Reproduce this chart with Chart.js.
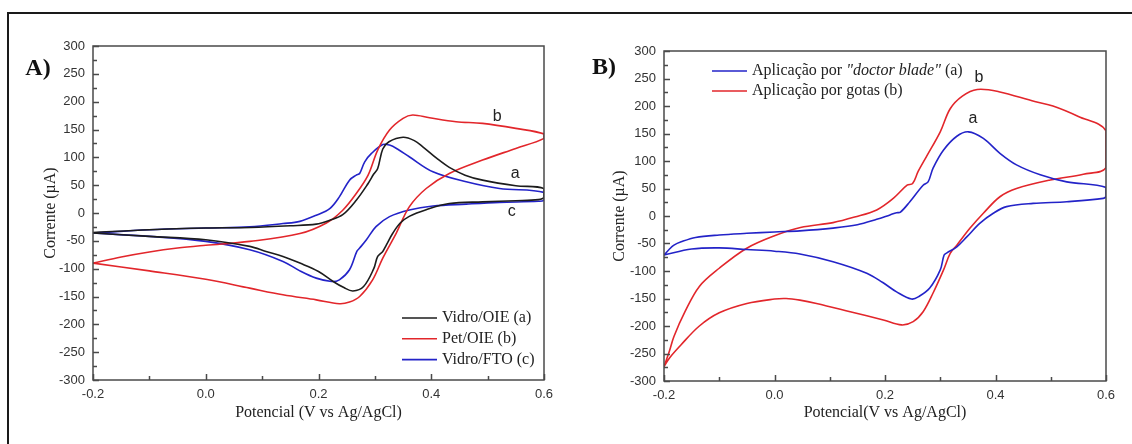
<!DOCTYPE html>
<html lang="pt">
<head>
<meta charset="utf-8">
<title>Voltametria cíclica</title>
<script src="https://cdn.jsdelivr.net/npm/chart.js@4.4.1/dist/chart.umd.min.js"></script>
<style>
  html, body { margin: 0; padding: 0; background: #fff; }
  #page { position: relative; width: 1132px; height: 444px; overflow: hidden; }
  #frame { position: absolute; left: 7px; top: 12px; right: 0; bottom: 0;
           border-left: 2px solid #1a1a1a; border-top: 2px solid #1a1a1a; }
  canvas { position: absolute; top: 0; }
  #chartA { left: 0; }
  #chartB { left: 566px; }
</style>
</head>
<body>
<div id="page">
  <div id="frame"></div>
  <canvas id="chartA" width="566" height="444"></canvas>
  <canvas id="chartB" width="566" height="444"></canvas>
</div>
<script>
// Painel A - voltamogramas: potencial (V) e corrente (uA), ida e volta
const vidroOieV = [-0.2, -0.1, 0.0, 0.08, 0.15, 0.196, 0.22, 0.243, 0.267, 0.288, 0.298, 0.305, 0.314, 0.325, 0.35, 0.37, 0.385, 0.41, 0.432, 0.46, 0.491, 0.55, 0.6,
                   0.6, 0.59, 0.55, 0.491, 0.432, 0.391, 0.361, 0.345, 0.332, 0.32, 0.314, 0.305, 0.298, 0.28, 0.261, 0.245, 0.226, 0.2, 0.167, 0.137, 0.107, 0.078, 0.0, -0.1, -0.2];
const vidroOieI = [-35, -30, -27, -26, -23, -20, -13, -3, 23, 53, 70, 80, 115, 128, 136, 130, 119, 98, 82, 68, 59, 49, 44,
                   28, 24, 22, 20, 17, 6, -6, -18, -36, -58, -69, -78, -100, -132, -140, -134, -123, -105, -90, -78, -69, -60, -48, -42, -36];

const petOieV = [-0.2, -0.15, -0.1, -0.05, 0.0, 0.078, 0.167, 0.214, 0.243, 0.267, 0.288, 0.305, 0.326, 0.35, 0.367, 0.397, 0.444, 0.491, 0.55, 0.6,
                 0.6, 0.55, 0.491, 0.432, 0.391, 0.361, 0.338, 0.314, 0.296, 0.273, 0.255, 0.237, 0.196, 0.137, 0.078, 0.0, -0.1, -0.2];
const petOieI = [-90, -79, -70, -63, -58, -51, -37, -18, 5, 35, 68, 113, 149, 170, 176, 171, 164, 161, 152, 142,
                 134, 116, 95, 71, 44, 11, -36, -81, -120, -150, -160, -163, -156, -147, -135, -119, -104, -90];

const vidroFtoV = [-0.2, -0.1, 0.0, 0.078, 0.137, 0.167, 0.196, 0.22, 0.237, 0.255, 0.267, 0.273, 0.282, 0.294, 0.314, 0.326, 0.34, 0.361, 0.403, 0.462, 0.521, 0.6,
                   0.6, 0.59, 0.521, 0.462, 0.403, 0.361, 0.326, 0.302, 0.285, 0.273, 0.268, 0.255, 0.237, 0.223, 0.196, 0.167, 0.137, 0.078, 0.0, -0.1, -0.2];
const vidroFtoI = [-36, -30, -27, -25, -19, -15, -4, 8, 29, 59, 68, 71, 92, 107, 123, 122, 115, 101, 74, 56, 44, 37,
                   23, 21, 19, 16, 12.5, 5.5, -6.5, -24.5, -48, -63, -69, -102, -120, -123, -117, -104, -87, -66, -51, -42, -36];

// Painel B - modo de aplicação
const doctorBladeV = [-0.2, -0.19, -0.182, -0.169, -0.143, -0.1, -0.05, 0.0, 0.046, 0.106, 0.15, 0.185, 0.209, 0.221, 0.228, 0.245, 0.269, 0.278, 0.287, 0.306, 0.33, 0.351, 0.378, 0.408, 0.438, 0.481, 0.529, 0.6,
                      0.6, 0.595, 0.529, 0.468, 0.42, 0.396, 0.372, 0.348, 0.33, 0.312, 0.307, 0.3, 0.281, 0.262, 0.248, 0.221, 0.196, 0.167, 0.106, 0.046, 0.0, -0.05, -0.1, -0.15, -0.2];
const doctorBladeI = [-71, -60, -53, -47, -39, -34.5, -31.5, -29, -27, -22, -16, -6, 2, 6, 7, 26, 56, 62, 87, 120, 145, 153, 141, 114, 93, 75, 62, 52,
                      36, 32, 26, 23, 17, 5, -13, -38, -56, -67, -71, -98, -131, -146, -151, -138, -121, -104, -83, -69, -64, -61, -58, -60, -71];

const gotasV = [-0.2, -0.19, -0.182, -0.162, -0.136, -0.1, -0.051, 0.0, 0.047, 0.106, 0.145, 0.185, 0.215, 0.24, 0.25, 0.26, 0.275, 0.3, 0.318, 0.34, 0.367, 0.406, 0.471, 0.504, 0.55, 0.6,
                0.6, 0.559, 0.499, 0.438, 0.408, 0.378, 0.354, 0.33, 0.318, 0.306, 0.287, 0.269, 0.251, 0.23, 0.197, 0.137, 0.076, 0.046, 0.021, 0.0, -0.05, -0.1, -0.136, -0.169, -0.19, -0.2];
const gotasI = [-274, -245, -219, -174, -128, -95, -59, -36, -21, -12, -2, 11, 32, 56, 59, 81, 108, 153, 195, 218, 230, 226, 208, 200, 181, 155,
                88, 76, 65.5, 50, 35, 5, -22, -53, -68, -98, -140, -174, -192, -198, -189, -174, -159, -153, -150, -151, -159, -176, -200, -234, -258, -274];

const xRange = [-0.2, 0.6];
const yRange = [-300, 300];

const SANS = '"Liberation Sans", Arial, sans-serif';
const SERIF = '"Liberation Serif", "Times New Roman", serif';
const TEXT_COLOR = '#222';
const AXIS_COLOR = '#4a4a4a';
const BLACK = '#1c1c1c';
const RED = '#e2262b';
const BLUE = '#2323c8';

function toPoints(vs, is) {
    return vs.map((v, k) => ({ x: v, y: is[k] }));
}

function curve(label, vs, is, color) {
    return {
        label: label,
        data: toPoints(vs, is),
        borderColor: color,
        backgroundColor: color,
        borderWidth: 1.6,
        pointRadius: 0,
        showLine: true,
        fill: false,
        tension: 0.35
    };
}

// Frame box, inward ticks, legend and curve letters
function panelDecor(cfg) {
    return {
        id: 'panelDecor',
        afterDatasetsDraw(chart) {
            const { ctx, chartArea: area } = chart;
            const xs = chart.scales.x;
            const ys = chart.scales.y;
            ctx.save();

            ctx.strokeStyle = AXIS_COLOR;
            ctx.lineWidth = 1.5;
            ctx.strokeRect(area.left, area.top, area.right - area.left, area.bottom - area.top);

            ctx.beginPath();
            for (let k = 0; k <= 8; k++) {
                const px = Math.round(xs.getPixelForValue(xRange[0] + k * 0.1)) + 0.5;
                const len = k % 2 === 0 ? 6 : 4;
                ctx.moveTo(px, area.bottom);
                ctx.lineTo(px, area.bottom - len);
            }
            for (let k = 0; k <= 24; k++) {
                const py = Math.round(ys.getPixelForValue(yRange[0] + k * 25)) + 0.5;
                const len = k % 2 === 0 ? 6 : 4;
                ctx.moveTo(area.left, py);
                ctx.lineTo(area.left + len, py);
            }
            ctx.stroke();

            // panel letter
            ctx.fillStyle = '#111';
            ctx.font = 'bold 24px ' + SERIF;
            ctx.textAlign = 'center';
            ctx.textBaseline = 'middle';
            ctx.fillText(cfg.panel, cfg.panelX, cfg.panelY);

            // legend
            const lg = cfg.legend;
            chart.data.datasets.forEach((ds, k) => {
                const rowY = lg.y + k * lg.gap;
                ctx.strokeStyle = ds.borderColor;
                ctx.lineWidth = 1.6;
                ctx.beginPath();
                ctx.moveTo(lg.x, rowY);
                ctx.lineTo(lg.x + lg.lineLen, rowY);
                ctx.stroke();

                // quoted words are set in italics
                let tx = lg.x + lg.lineLen + 5;
                ctx.fillStyle = TEXT_COLOR;
                ctx.textAlign = 'left';
                ds.label.split(/("[^"]*")/).forEach(part => {
                    if (!part) return;
                    ctx.font = (part.startsWith('"') ? 'italic ' : '') + '16px ' + SERIF;
                    ctx.fillText(part, tx, rowY);
                    tx += ctx.measureText(part).width;
                });
            });

            // curve letters
            ctx.font = '16px ' + SANS;
            ctx.textAlign = 'center';
            ctx.fillStyle = TEXT_COLOR;
            cfg.letters.forEach(l => {
                ctx.fillText(l.text, xs.getPixelForValue(l.v), ys.getPixelForValue(l.i));
            });

            ctx.restore();
        }
    };
}

function panelOptions(cfg) {
    return {
        responsive: false,
        animation: false,
        layout: { padding: { left: 0, top: cfg.top, right: cfg.right, bottom: 0 } },
        plugins: { legend: { display: false }, tooltip: { enabled: false } },
        scales: {
            x: {
                type: 'linear',
                min: xRange[0],
                max: xRange[1],
                grid: { display: false, drawTicks: false },
                border: { display: false },
                ticks: {
                    stepSize: 0.2,
                    padding: 7,
                    autoSkip: false,
                    maxRotation: 0,
                    color: '#333',
                    font: { family: SANS, size: 13 },
                    callback: v => Number(v).toFixed(1)
                },
                title: {
                    display: true,
                    text: cfg.xTitle,
                    color: TEXT_COLOR,
                    font: { family: SERIF, size: 16 },
                    padding: { top: 0, bottom: 22 }
                },
                afterFit: s => { s.height = cfg.xAxisHeight; }
            },
            y: {
                type: 'linear',
                min: yRange[0],
                max: yRange[1],
                grid: { display: false, drawTicks: false },
                border: { display: false },
                ticks: {
                    stepSize: 50,
                    padding: 8,
                    autoSkip: false,
                    color: '#333',
                    font: { family: SANS, size: 13 },
                    callback: v => String(Math.round(v))
                },
                title: {
                    display: true,
                    text: 'Corrente (\u00b5A)',
                    color: TEXT_COLOR,
                    font: { family: SERIF, size: 16 },
                    padding: { top: cfg.yTitlePad, bottom: 0 }
                },
                afterFit: s => { s.width = cfg.yAxisWidth; }
            }
        }
    };
}

new Chart(document.getElementById('chartA'), {
    type: 'scatter',
    data: {
        datasets: [
            curve('Vidro/OIE (a)', vidroOieV, vidroOieI, BLACK),
            curve('Pet/OIE (b)', petOieV, petOieI, RED),
            curve('Vidro/FTO (c)', vidroFtoV, vidroFtoI, BLUE)
        ]
    },
    options: panelOptions({
        top: 46, right: 22, xAxisHeight: 64, yAxisWidth: 93, yTitlePad: 41,
        xTitle: 'Potencial (V vs Ag/AgCl)'
    }),
    plugins: [panelDecor({
        panel: 'A)', panelX: 38, panelY: 69,
        legend: { x: 402, y: 318, gap: 20.8, lineLen: 35 },
        letters: [
            { text: 'b', v: 0.517, i: 173 },
            { text: 'a', v: 0.549, i: 70 },
            { text: 'c', v: 0.543, i: 2 }
        ]
    })]
});

new Chart(document.getElementById('chartB'), {
    type: 'scatter',
    data: {
        datasets: [
            curve('Aplicação por "doctor blade" (a)', doctorBladeV, doctorBladeI, BLUE),
            curve('Aplicação por gotas (b)', gotasV, gotasI, RED)
        ]
    },
    options: panelOptions({
        top: 51, right: 26, xAxisHeight: 63, yAxisWidth: 98, yTitlePad: 44,
        xTitle: 'Potencial(V vs Ag/AgCl)'
    }),
    plugins: [panelDecor({
        panel: 'B)', panelX: 38, panelY: 68,
        legend: { x: 146, y: 71, gap: 20, lineLen: 35 },
        letters: [
            { text: 'b', v: 0.37, i: 252 },
            { text: 'a', v: 0.359, i: 178 }
        ]
    })]
});
</script>
</body>
</html>
